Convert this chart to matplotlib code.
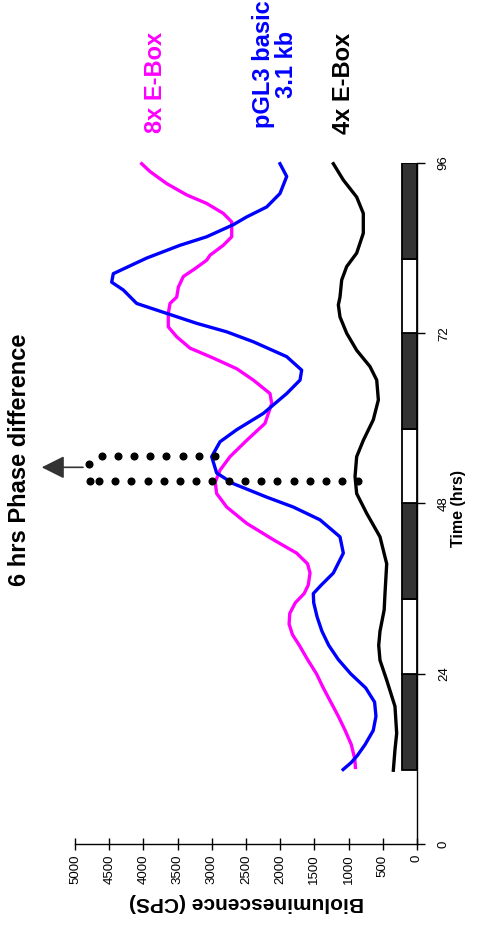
import numpy as np
import matplotlib
matplotlib.use("Agg")
import matplotlib.pyplot as plt
from matplotlib.patches import Rectangle

plt.rcParams['font.family'] = ['Liberation Sans', 'DejaVu Sans']

# ---------------- data ----------------
# 8x E-Box (magenta)
t_8x = [10.8, 12, 14, 16, 18, 20, 22, 24, 26, 28, 29.5, 31, 32.5, 34, 35.3, 36.5, 38.2,
        39.5, 41.0, 42.9, 45.2, 47.5, 49.4, 51, 52.7, 54.6, 56.9, 59.3, 62.1, 63.5,
        65.4, 67.0, 68.5, 69.9, 71.5, 72.9, 74.8, 76.2, 77.1, 78.5, 80.0, 81.1, 82.3,
        83.0, 84.4, 85.6, 87.7, 88.9, 90.3, 91.5, 93.1, 94.8, 95.9]
v_8x = [900, 910, 960, 1050, 1150, 1260, 1370, 1470, 1600, 1720, 1820, 1870, 1860,
        1780, 1650, 1590, 1564, 1600, 1759, 2101, 2490, 2782, 2929, 2950, 2880, 2734,
        2490, 2222, 2124, 2149, 2393, 2636, 2978, 3318, 3513, 3636, 3636, 3611, 3513,
        3489, 3416, 3246, 3075, 3026, 2832, 2709, 2709, 2832, 3075, 3367, 3660, 3904,
        4025]

# pGL3 basic 3.1 kb (blue)
t_pgl3 = [10.5, 11.5, 12.5, 14, 16, 18, 20, 22, 24, 26, 28, 30, 32, 34, 35.3, 36.5,
          38.2, 41.0, 43.3, 45.7, 47.5, 48.9, 50.8, 52.3, 54.6, 56.7, 58.4, 60.7, 63.5,
          65.4, 66.8, 68.7, 70.8, 72.2, 73.4, 74.8, 76.2, 78.1, 79.2, 80.4, 82.6, 84.4,
          85.6, 87.3, 88.4, 89.8, 91.7, 94.1, 95.9]
v_pgl3 = [1080, 960, 870, 760, 640, 600, 620, 750, 970, 1150, 1290, 1390, 1460, 1510,
          1516, 1400, 1223, 1077, 1126, 1418, 1808, 2198, 2686, 2929, 3002, 2880, 2636,
          2247, 1905, 1710, 1686, 1905, 2393, 2782, 3221, 3660, 4098, 4294, 4464, 4440,
          3952, 3465, 3075, 2686, 2490, 2198, 2003, 1905, 2003]

# 4x E-Box (black)
t_4x = [10.4, 13.3, 15.6, 19.4, 23.1, 25.9, 28, 30, 33, 35.3, 39.5, 43.3, 46.6, 49.4,
        51.8, 54.6, 56.9, 59.8, 62.6, 65.4, 67.3, 69.6, 72.0, 74.3, 76.0, 77.1, 79.5,
        81.4, 83.3, 86.1, 88.9, 91.2, 93.6, 95.9]
v_4x = [346, 322, 297, 322, 443, 541, 560, 541, 480, 468, 443, 541, 735, 882, 906, 882,
        785, 639, 565, 589, 687, 882, 1028, 1126, 1150, 1126, 1101, 1028, 882, 785, 785,
        882, 1077, 1223]

# light/dark bar: boundaries and state (True = dark)
ld_edges = [10.5, 24, 34.5, 48, 58.5, 72, 82.5, 96]
ld_dark = [True, False, True, False, True, False, True]
ld_height = 220

# phase-difference markers (time of peak, dotted line from..to in CPS)
phase_t = [51.2, 54.7]
phase_from = [857, 2953]
phase_to = [4780, 4610]
phase_join = (4790, 53.6)
arrow_t = 53.1
arrow_from, arrow_to = 4883, 5487

x_ticks = list(range(0, 5001, 500))
t_ticks = [0, 24, 48, 72, 96]

# ---------------- figure ----------------
W, H = 491, 930
fig = plt.figure(figsize=(W / 100, H / 100), dpi=100)
ax = fig.add_axes([75 / W, 1 - 844 / H, (417 - 75) / W, (844 - 163) / H])
ax.set_xlim(5000, 0)
ax.set_ylim(0, 96)

for s in ['top', 'left']:
    ax.spines[s].set_visible(False)
for s in ['bottom', 'right']:
    ax.spines[s].set_linewidth(1.0)

ax.set_xticks(x_ticks)
ax.set_xticklabels([str(v) for v in x_ticks], rotation=90, fontsize=9.5)
ax.tick_params(axis='x', direction='inout', length=9, width=1, pad=3)

ax.yaxis.tick_right()
ax.set_yticks(t_ticks)
ax.set_yticklabels([str(v) for v in t_ticks], rotation=90, fontsize=9.5,
                   va='center')
ax.tick_params(axis='y', direction='out', length=6, width=1, pad=9)

# light/dark bar
for i, dark in enumerate(ld_dark):
    ax.add_patch(Rectangle((0, ld_edges[i]), ld_height, ld_edges[i + 1] - ld_edges[i],
                           facecolor='#333333' if dark else 'white',
                           edgecolor='black', linewidth=1.3, zorder=3))

lw = 2.4
ax.plot(v_8x, t_8x, color='#FF00FF', lw=lw, clip_on=False, zorder=4)
ax.plot(v_pgl3, t_pgl3, color='#0000FF', lw=lw, clip_on=False, zorder=4)
ax.plot(v_4x, t_4x, color='black', lw=lw, clip_on=False, zorder=4)

# dotted phase lines
step = 237
for tp, a, b in zip(phase_t, phase_from, phase_to):
    xs = list(np.arange(a, b, step)) + [b]
    ax.plot(xs, [tp] * len(xs), 'o', color='black', ms=4.8, clip_on=False, zorder=5)
ax.plot([phase_join[0]], [phase_join[1]], 'o', color='black', ms=4.8, clip_on=False,
        zorder=5)

ax.annotate('', xy=(arrow_to, arrow_t), xytext=(arrow_from, arrow_t),
            arrowprops=dict(arrowstyle='-|>,head_length=0.7,head_width=0.35',
                            color='#333333', lw=1.2, mutation_scale=20,
                            shrinkA=0, shrinkB=0),
            annotation_clip=False)

# texts
def fx(px):
    return px / W

def fy(py):
    return 1 - py / H

fig.text(fx(20), fy(460), '6 hrs Phase difference', rotation=90, fontsize=17,
         fontweight='bold', ha='center', va='center')
fig.text(fx(156), fy(82), '8x E-Box', rotation=90, fontsize=17, fontweight='bold',
         color='#FF00FF', ha='center', va='center')
fig.text(fx(275), fy(64), 'pGL3 basic\n3.1 kb', rotation=90, fontsize=17,
         fontweight='bold', color='#0000FF', ha='center', va='center',
         multialignment='center', linespacing=1.0)
fig.text(fx(343), fy(83), '4x E-Box', rotation=90, fontsize=17, fontweight='bold',
         color='black', ha='center', va='center')
fig.text(fx(459), fy(508), 'Time (hrs)', rotation=90, fontsize=11.5,
         fontweight='bold', ha='center', va='center')
fig.text(fx(246), fy(902), 'Bioluminescence (CPS)', rotation=180, fontsize=15,
         fontweight='bold', ha='center', va='center')

fig.savefig('out.png', dpi=100)
